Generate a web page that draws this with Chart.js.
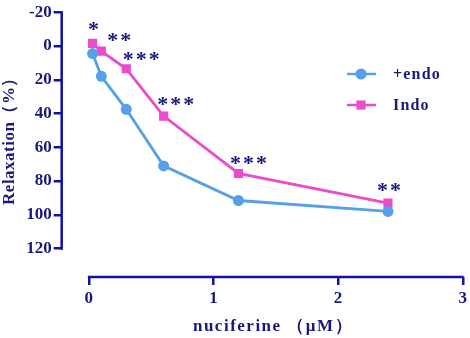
<!DOCTYPE html>
<html>
<head>
<meta charset="utf-8">
<script src="https://cdn.jsdelivr.net/npm/chart.js@4"></script>
<style>
  body { margin: 0; background: #fff; }
  #wrap { width: 470px; height: 338px; }
</style>
</head>
<body>
<div id="wrap"><canvas id="chart"></canvas></div>
<script>
// data
const doses = [0.03, 0.1, 0.3, 0.6, 1.2, 2.4];
const endoValues = [4.5, 18, 37.5, 71, 91.5, 98];
const indoValues = [-1.5, 3, 13.5, 41.5, 75.5, 93];
const starLabels = ['*', '**', '***', '***', '***', '**'];
const xTicks = [0, 1, 2, 3];
const yTicks = [-20, 0, 20, 40, 60, 80, 100, 120];

const AXIS = '#1212a6';
const TEXT = '#18187f';
const BLUE = '#55a0e8';
const PINK = '#ec4ccb';
const FONT = '"Liberation Serif", "Times New Roman", serif';

// star offsets from the Indo points (px)
const starShift = [[1, -17], [18, -14], [15, -12], [12, -15], [10, -13], [1, -16]];

const extras = {
    id: 'extras',
    afterDraw(chart) {
        const ctx = chart.ctx;
        const xs = chart.scales.x, ys = chart.scales.y;
        const area = chart.chartArea;
        ctx.save();
        // axis lines
        ctx.strokeStyle = AXIS;
        ctx.lineWidth = 2.5;
        ctx.beginPath();
        ctx.moveTo(area.left, ys.getPixelForValue(yTicks[0]) - 1);
        ctx.lineTo(area.left, ys.getPixelForValue(yTicks[yTicks.length - 1]) + 1);
        ctx.moveTo(xs.getPixelForValue(xTicks[0]) - 1, area.bottom);
        ctx.lineTo(xs.getPixelForValue(xTicks[xTicks.length - 1]) + 1, area.bottom);
        ctx.stroke();

        // significance stars
        ctx.fillStyle = TEXT;
        ctx.font = 'bold 22px ' + FONT;
        ctx.textAlign = 'center';
        ctx.textBaseline = 'middle';
        const meta = chart.getDatasetMeta(1);
        meta.data.forEach((pt, i) => {
            const s = starLabels[i];
            const cx = pt.x + starShift[i][0];
            const cy = pt.y + starShift[i][1] + 4;
            for (let k = 0; k < s.length; k++) {
                ctx.fillText('*', cx + (k - (s.length - 1) / 2) * 13, cy);
            }
        });

        // legend
        const items = [
            {label: '+endo', color: BLUE, style: 'circle', r: 5.5, y: 74},
            {label: 'Indo', color: PINK, style: 'rect', r: 6.5, y: 105}
        ];
        items.forEach(it => {
            ctx.strokeStyle = it.color;
            ctx.fillStyle = it.color;
            ctx.lineWidth = 2.5;
            ctx.beginPath();
            ctx.moveTo(347, it.y);
            ctx.lineTo(376, it.y);
            ctx.stroke();
            Chart.helpers.drawPoint(ctx, {pointStyle: it.style, radius: it.r, borderWidth: 0}, 361, it.y);
            ctx.fillStyle = TEXT;
            ctx.font = 'bold 16px ' + FONT;
            ctx.textAlign = 'left';
            ctx.textBaseline = 'middle';
            ctx.letterSpacing = '1.2px';
            ctx.fillText(it.label, 393, it.y + 1);
        });

        // axis titles
        ctx.fillStyle = TEXT;
        ctx.font = 'bold 17px ' + FONT;
        ctx.textAlign = 'center';
        ctx.textBaseline = 'middle';
        ctx.letterSpacing = '1.5px';
        ctx.fillText('nuciferine （μM）', 273, 327);
        ctx.letterSpacing = '0.5px';
        ctx.translate(10, 137);
        ctx.rotate(-Math.PI / 2);
        ctx.fillText('Relaxation（%）', 0, 0);
        ctx.restore();
    }
};

new Chart(document.getElementById('chart'), {
    type: 'line',
    data: {
        datasets: [
            {
                label: '+endo',
                data: doses.map((d, i) => ({x: d, y: endoValues[i]})),
                borderColor: BLUE,
                backgroundColor: BLUE,
                borderWidth: 2.8,
                pointStyle: 'circle',
                pointRadius: 5.5,
                pointBorderWidth: 0,
                tension: 0
            },
            {
                label: 'Indo',
                data: doses.map((d, i) => ({x: d, y: indoValues[i]})),
                borderColor: PINK,
                backgroundColor: PINK,
                borderWidth: 2.8,
                pointStyle: 'rect',
                pointRadius: 6.5,
                pointBorderWidth: 0,
                tension: 0
            }
        ]
    },
    options: {
        responsive: true,
        maintainAspectRatio: false,
        animation: false,
        layout: {padding: {top: 10, right: 5.7, left: 0, bottom: 0}},
        plugins: {legend: {display: false}, tooltip: {enabled: false}},
        scales: {
            x: {
                type: 'linear',
                min: -0.218,
                max: 3,
                afterBuildTicks: s => { s.ticks = xTicks.map(v => ({value: v})); },
                afterFit: s => { s.height = 61; },
                border: {display: false},
                grid: {drawOnChartArea: false, drawTicks: true, tickLength: 8, color: AXIS, lineWidth: 2.5},
                ticks: {color: TEXT, padding: 3, font: {family: FONT, size: 17, weight: 'bold'}, maxRotation: 0}
            },
            y: {
                reverse: true,
                min: -20,
                max: 136.8,
                afterBuildTicks: s => { s.ticks = yTicks.map(v => ({value: v})); },
                afterFit: s => { s.width = 61.7; },
                border: {display: false},
                grid: {drawOnChartArea: false, drawTicks: true, tickLength: 8, color: AXIS, lineWidth: 2.5},
                ticks: {color: TEXT, padding: 2, font: {family: FONT, size: 17, weight: 'bold'}}
            }
        }
    },
    plugins: [extras]
});
</script>
</body>
</html>
